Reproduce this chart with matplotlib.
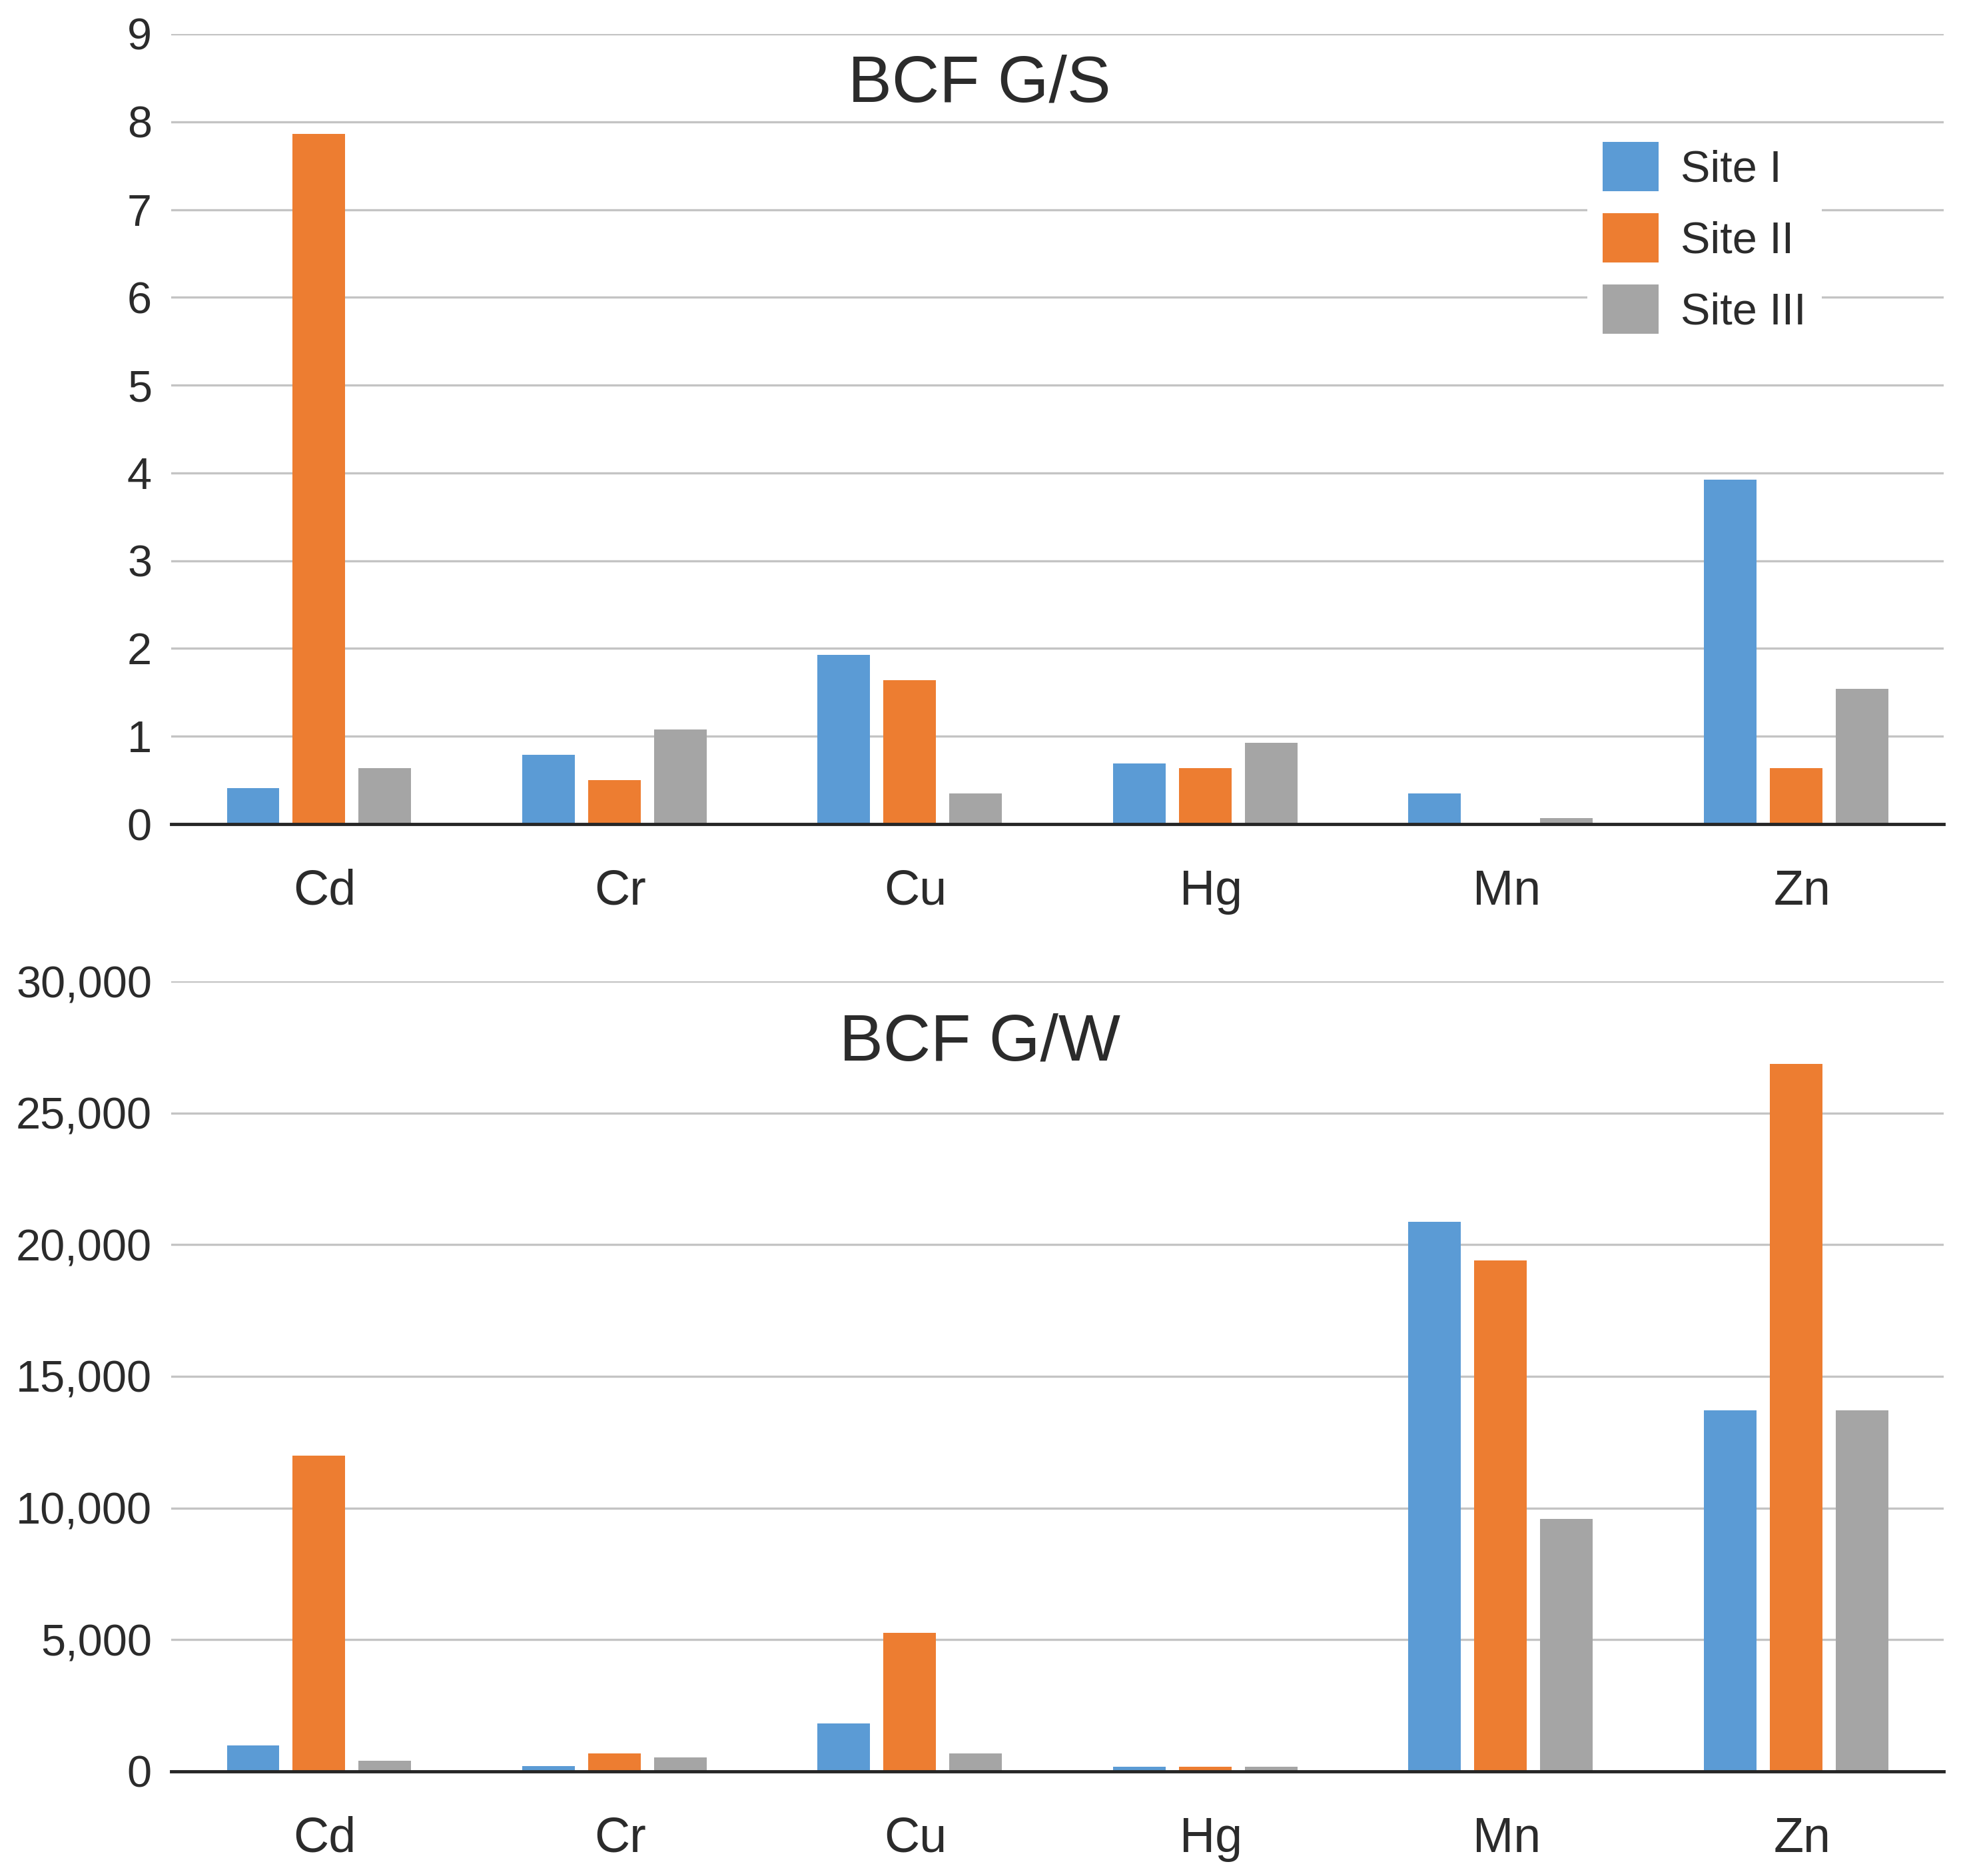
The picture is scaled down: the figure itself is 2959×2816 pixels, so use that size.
import matplotlib
matplotlib.use("Agg")
import matplotlib.pyplot as plt
from matplotlib.ticker import FuncFormatter, MultipleLocator
from matplotlib.transforms import ScaledTranslation
import numpy as np

plt.rcParams["font.family"] = ["Liberation Sans", "DejaVu Sans"]

# data
metals = ["Cd", "Cr", "Cu", "Hg", "Mn", "Zn"]
sites = ["Site I", "Site II", "Site III"]

gs_site1 = [0.41, 0.79, 1.93, 0.69, 0.35, 3.92]
gs_site2 = [7.86, 0.50, 1.64, 0.64, 0.0, 0.64]
gs_site3 = [0.64, 1.08, 0.35, 0.93, 0.07, 1.54]

gw_site1 = [990, 200, 1830, 180, 20870, 13700]
gw_site2 = [11990, 690, 5270, 180, 19410, 26870]
gw_site3 = [390, 530, 690, 180, 9590, 13700]

# colours
COL_S1 = "#5b9bd5"
COL_S2 = "#ed7d31"
COL_S3 = "#a5a5a5"
COL_GRID = "#c4c4c4"
COL_AXIS = "#262626"
COL_TEXT = "#2b2b2b"

BAR_W = 0.178
OFFSET = 0.223


def draw_panel(fig, ax, series, ymax, step, fmt):
    x = np.arange(len(metals))
    cols = [COL_S1, COL_S2, COL_S3]
    for i, (vals, col) in enumerate(zip(series, cols)):
        ax.bar(x + (i - 1) * OFFSET, vals, width=BAR_W, color=col,
               label=sites[i], zorder=3)
    ax.set_xlim(-0.5, len(metals) - 0.5)
    ax.set_ylim(0, ymax)
    ax.yaxis.set_major_locator(MultipleLocator(step))
    ax.yaxis.set_major_formatter(FuncFormatter(fmt))
    ax.set_xticks(x)
    ax.set_xticklabels(metals)
    ax.grid(axis="y", color=COL_GRID, linewidth=2.4, zorder=0)
    ax.set_axisbelow(True)
    for side in ("top", "left", "right"):
        ax.spines[side].set_visible(False)
    ax.spines["bottom"].set_color(COL_AXIS)
    ax.spines["bottom"].set_linewidth(3.5)
    ax.spines["bottom"].set_zorder(4)
    ax.tick_params(axis="y", length=0, pad=21, labelsize=48, colors=COL_TEXT)
    ax.tick_params(axis="x", length=0, pad=48, labelsize=53, colors=COL_TEXT)
    # category labels sit a little right of the group centre
    shift = ScaledTranslation(0.09, 0, fig.dpi_scale_trans)
    for lab in ax.get_xticklabels():
        lab.set_transform(lab.get_transform() + shift)


fig = plt.figure(figsize=(29.59, 28.16), dpi=100)
fig.patch.set_facecolor("white")

ax1 = fig.add_axes([0.0869, 0.5607, 0.8992, 0.4212])
ax2 = fig.add_axes([0.0869, 0.0558, 0.8992, 0.4211])

draw_panel(fig, ax1, [gs_site1, gs_site2, gs_site3], 9, 1,
           lambda v, _: f"{v:.0f}")
draw_panel(fig, ax2, [gw_site1, gw_site2, gw_site3], 30000, 5000,
           lambda v, _: f"{v:,.0f}")

fig.text(0.497, 0.9459, "BCF G/S", ha="center", va="baseline",
         fontsize=71, color=COL_TEXT)
fig.text(0.497, 0.4350, "BCF G/W", ha="center", va="baseline",
         fontsize=71, color=COL_TEXT)

leg = ax1.legend(loc="upper left", bbox_to_anchor=(0.8053, 0.9325),
                 bbox_transform=fig.transFigure, fontsize=48,
                 frameon=True, fancybox=False, borderpad=0.35,
                 borderaxespad=0, handlelength=1.25, handleheight=1.32,
                 handletextpad=0.5, labelspacing=0.5)
leg.get_frame().set_facecolor("white")
leg.get_frame().set_edgecolor("none")
leg.get_frame().set_alpha(1)
for t in leg.get_texts():
    t.set_color(COL_TEXT)

fig.savefig("out.png", dpi=100, facecolor="white")
